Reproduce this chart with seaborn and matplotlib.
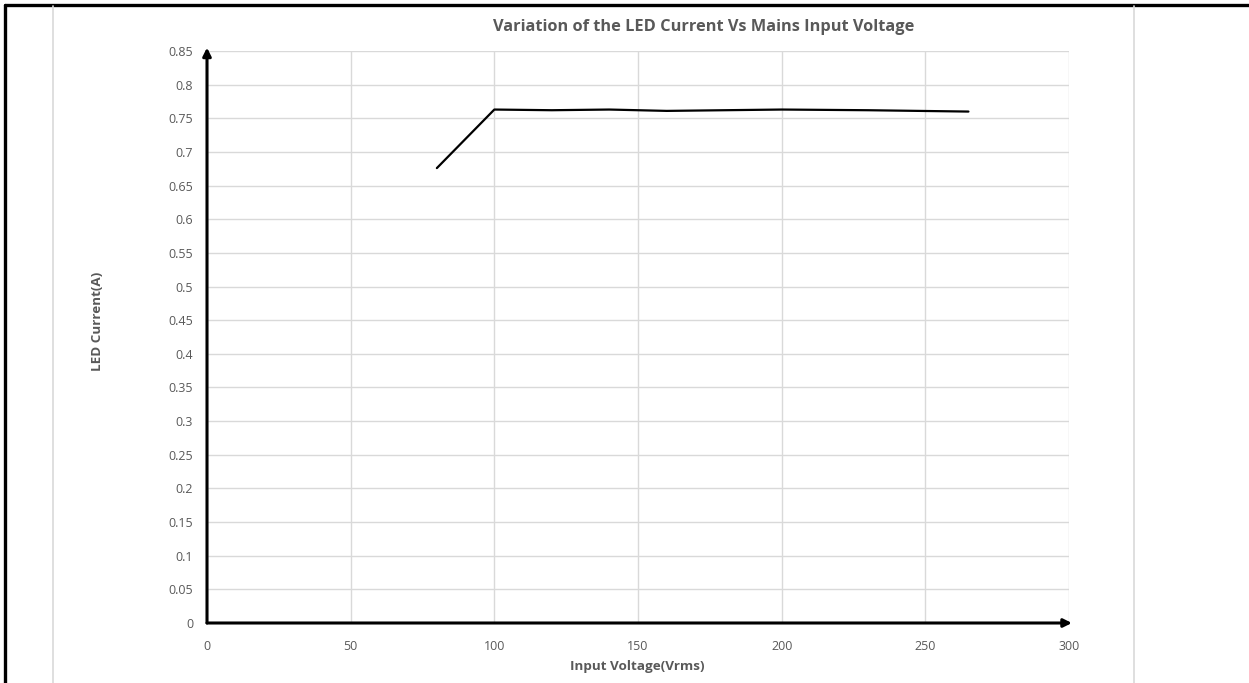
import matplotlib
matplotlib.use("Agg")
import matplotlib.pyplot as plt
from matplotlib.lines import Line2D
from matplotlib.ticker import FuncFormatter, MultipleLocator
import pandas as pd
import seaborn as sns

# Data
input_voltage = [80, 100, 120, 140, 160, 200, 230, 265]
led_current = [0.676, 0.763, 0.762, 0.763, 0.761, 0.763, 0.762, 0.760]

df = pd.DataFrame({"Input Voltage": input_voltage, "LED Current": led_current})

sns.set_style("white")
plt.rcParams["font.family"] = ["Open Sans", "DejaVu Sans"]

TEXT = "#595959"
GRID = "#d9d9d9"

fig = plt.figure(figsize=(12.49, 6.83), dpi=100)
ax = fig.add_axes([207 / 1249, 1 - 623 / 683, (1069 - 207) / 1249, (623 - 51) / 683])

sns.lineplot(data=df, x="Input Voltage", y="LED Current", ax=ax,
             color="black", linewidth=1.6)

ax.set_xlim(0, 300)
ax.set_ylim(0, 0.85)
ax.xaxis.set_major_locator(MultipleLocator(50))
ax.yaxis.set_major_locator(MultipleLocator(0.05))
ax.yaxis.set_major_formatter(FuncFormatter(lambda v, p: f"{round(v, 2):g}"))
ax.grid(True, color=GRID, linewidth=1.0)
ax.set_axisbelow(True)
for s in ax.spines.values():
    s.set_visible(False)
ax.tick_params(axis="both", length=0, labelsize=9, labelcolor=TEXT)
ax.tick_params(axis="x", pad=12)
ax.tick_params(axis="y", pad=10)

# axis arrows
ax.annotate("", xy=(0, 0.855), xytext=(0, 0), xycoords="data",
            arrowprops=dict(arrowstyle="-|>", color="black", lw=2.2,
                            mutation_scale=12, shrinkA=0, shrinkB=0),
            annotation_clip=False)
ax.annotate("", xy=(301, 0), xytext=(0, 0), xycoords="data",
            arrowprops=dict(arrowstyle="-|>", color="black", lw=2.2,
                            mutation_scale=12, shrinkA=0, shrinkB=0),
            annotation_clip=False)

ax.set_xlabel("Input Voltage(Vrms)", fontsize=9.7, fontweight="bold", color=TEXT)
ax.set_ylabel("LED Current(A)", fontsize=9.7, fontweight="bold", color=TEXT)
ax.yaxis.set_label_coords(-0.1195, 0.528)
ax.xaxis.set_label_coords(0.499, -0.064)

fig.text(704 / 1249, 1 - 27 / 683, "Variation of the LED Current Vs Mains Input Voltage",
         ha="center", va="center", fontsize=11.8, fontweight="bold", color=TEXT)

# frame lines of the chart area
fig.add_artist(Line2D([5 / 1249, 1], [1 - 5 / 683, 1 - 5 / 683], color="black", lw=2.4,
                      transform=fig.transFigure))
fig.add_artist(Line2D([5 / 1249, 5 / 1249], [0, 1 - 5 / 683], color="black", lw=2.4,
                      transform=fig.transFigure))
fig.add_artist(Line2D([53 / 1249, 53 / 1249], [0, 1 - 6 / 683], color=GRID, lw=1.2,
                      transform=fig.transFigure))
fig.add_artist(Line2D([1134 / 1249, 1134 / 1249], [0, 1 - 6 / 683], color=GRID, lw=1.2,
                      transform=fig.transFigure))

fig.savefig("out.png", dpi=100)
plt.close()
